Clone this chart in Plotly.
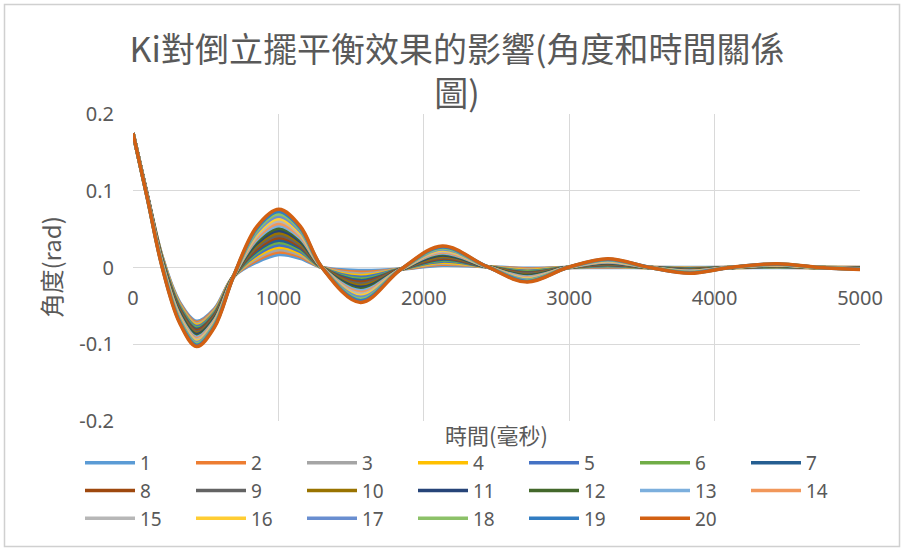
import plotly.graph_objects as go

# Sampling instants (ms) shared by every run
time_ms = [0, 100, 201, 320, 437, 560, 690, 850, 1003, 1150, 1300, 1565,
           1845, 2127, 2436, 2710, 2990, 3265, 3555, 3830, 4105, 4430, 4720, 5000]

# Pendulum angle (rad) for each Ki setting
ki_1 = [0.175, 0.093, 0.0140, -0.0450, -0.0700, -0.0540, -0.012, 0.0070, 0.0170, 0.0120, 0.0, -0.0040, -0.002, 0.0030, 0.001, -0.0010, 0.0, 0.0000, 0.0, 0.0000, 0.0, 0.0000, 0.0, 0.0000]
ki_2 = [0.175, 0.093, 0.0133, -0.0464, -0.0717, -0.0553, -0.012, 0.0094, 0.0201, 0.0142, 0.0, -0.0062, -0.002, 0.0043, 0.001, -0.0019, 0.0, 0.0006, 0.0, -0.0004, 0.0, 0.0003, 0.0, -0.0001]
ki_3 = [0.175, 0.093, 0.0125, -0.0478, -0.0735, -0.0565, -0.012, 0.0118, 0.0232, 0.0164, 0.0, -0.0084, -0.002, 0.0056, 0.001, -0.0029, 0.0, 0.0012, 0.0, -0.0008, 0.0, 0.0005, 0.0, -0.0003]
ki_4 = [0.175, 0.092, 0.0118, -0.0493, -0.0752, -0.0578, -0.012, 0.0143, 0.0263, 0.0186, 0.0, -0.0106, -0.002, 0.0069, 0.001, -0.0038, 0.0, 0.0018, 0.0, -0.0012, 0.0, 0.0008, 0.0, -0.0004]
ki_5 = [0.175, 0.092, 0.0111, -0.0507, -0.0769, -0.0591, -0.012, 0.0167, 0.0294, 0.0208, 0.0, -0.0127, -0.002, 0.0083, 0.001, -0.0048, 0.0, 0.0024, 0.0, -0.0016, 0.0, 0.0011, 0.0, -0.0005]
ki_6 = [0.175, 0.092, 0.0103, -0.0521, -0.0787, -0.0603, -0.012, 0.0191, 0.0325, 0.0231, 0.0, -0.0149, -0.002, 0.0096, 0.001, -0.0057, 0.0, 0.0030, 0.0, -0.0020, 0.0, 0.0013, 0.0, -0.0007]
ki_7 = [0.175, 0.092, 0.0096, -0.0535, -0.0804, -0.0616, -0.012, 0.0215, 0.0356, 0.0253, 0.0, -0.0171, -0.002, 0.0109, 0.001, -0.0067, 0.0, 0.0036, 0.0, -0.0024, 0.0, 0.0016, 0.0, -0.0008]
ki_8 = [0.175, 0.092, 0.0088, -0.0549, -0.0822, -0.0628, -0.012, 0.0239, 0.0387, 0.0275, 0.0, -0.0193, -0.002, 0.0122, 0.001, -0.0076, 0.0, 0.0042, 0.0, -0.0028, 0.0, 0.0018, 0.0, -0.0009]
ki_9 = [0.175, 0.091, 0.0081, -0.0564, -0.0839, -0.0641, -0.012, 0.0264, 0.0418, 0.0297, 0.0, -0.0215, -0.002, 0.0135, 0.001, -0.0086, 0.0, 0.0048, 0.0, -0.0032, 0.0, 0.0021, 0.0, -0.0011]
ki_10 = [0.175, 0.091, 0.0074, -0.0578, -0.0856, -0.0654, -0.012, 0.0288, 0.0449, 0.0319, 0.0, -0.0237, -0.002, 0.0148, 0.001, -0.0095, 0.0, 0.0054, 0.0, -0.0036, 0.0, 0.0024, 0.0, -0.0012]
ki_11 = [0.175, 0.091, 0.0066, -0.0592, -0.0874, -0.0666, -0.012, 0.0312, 0.0481, 0.0341, 0.0, -0.0258, -0.002, 0.0162, 0.001, -0.0105, 0.0, 0.0061, 0.0, -0.0039, 0.0, 0.0026, 0.0, -0.0013]
ki_12 = [0.175, 0.091, 0.0059, -0.0606, -0.0891, -0.0679, -0.012, 0.0336, 0.0512, 0.0363, 0.0, -0.0280, -0.002, 0.0175, 0.001, -0.0114, 0.0, 0.0067, 0.0, -0.0043, 0.0, 0.0029, 0.0, -0.0014]
ki_13 = [0.175, 0.091, 0.0052, -0.0621, -0.0908, -0.0692, -0.012, 0.0361, 0.0543, 0.0385, 0.0, -0.0302, -0.002, 0.0188, 0.001, -0.0124, 0.0, 0.0073, 0.0, -0.0047, 0.0, 0.0032, 0.0, -0.0016]
ki_14 = [0.175, 0.090, 0.0044, -0.0635, -0.0926, -0.0704, -0.012, 0.0385, 0.0574, 0.0407, 0.0, -0.0324, -0.002, 0.0201, 0.001, -0.0133, 0.0, 0.0079, 0.0, -0.0051, 0.0, 0.0034, 0.0, -0.0017]
ki_15 = [0.175, 0.090, 0.0037, -0.0649, -0.0943, -0.0717, -0.012, 0.0409, 0.0605, 0.0429, 0.0, -0.0346, -0.002, 0.0214, 0.001, -0.0143, 0.0, 0.0085, 0.0, -0.0055, 0.0, 0.0037, 0.0, -0.0018]
ki_16 = [0.175, 0.090, 0.0029, -0.0663, -0.0961, -0.0729, -0.012, 0.0433, 0.0636, 0.0452, 0.0, -0.0368, -0.002, 0.0227, 0.001, -0.0152, 0.0, 0.0091, 0.0, -0.0059, 0.0, 0.0039, 0.0, -0.0020]
ki_17 = [0.175, 0.090, 0.0022, -0.0677, -0.0978, -0.0742, -0.012, 0.0457, 0.0667, 0.0474, 0.0, -0.0389, -0.002, 0.0241, 0.001, -0.0162, 0.0, 0.0097, 0.0, -0.0063, 0.0, 0.0042, 0.0, -0.0021]
ki_18 = [0.175, 0.089, 0.0015, -0.0692, -0.0995, -0.0755, -0.012, 0.0482, 0.0698, 0.0496, 0.0, -0.0411, -0.002, 0.0254, 0.001, -0.0171, 0.0, 0.0103, 0.0, -0.0067, 0.0, 0.0045, 0.0, -0.0022]
ki_19 = [0.175, 0.089, 0.0007, -0.0706, -0.1013, -0.0767, -0.012, 0.0506, 0.0729, 0.0518, 0.0, -0.0433, -0.002, 0.0267, 0.001, -0.0181, 0.0, 0.0109, 0.0, -0.0071, 0.0, 0.0047, 0.0, -0.0024]
ki_20 = [0.175, 0.089, 0.0000, -0.0720, -0.1030, -0.0780, -0.012, 0.0530, 0.0760, 0.0540, 0.0, -0.0455, -0.002, 0.0280, 0.001, -0.0190, 0.0, 0.0115, 0.0, -0.0075, 0.0, 0.0050, 0.0, -0.0025]

series_names = ["1", "2", "3", "4", "5", "6", "7", "8", "9", "10",
                "11", "12", "13", "14", "15", "16", "17", "18", "19", "20"]

x_tick_vals = [0, 1000, 2000, 3000, 4000, 5000]
x_tick_text = ["0", "1000", "2000", "3000", "4000", "5000"]
y_tick_vals = [-0.2, -0.1, 0, 0.1, 0.2]
y_tick_text = ["-0.2", "-0.1", "0", "0.1", "0.2"]

series_values = [ki_1, ki_2, ki_3, ki_4, ki_5, ki_6, ki_7, ki_8, ki_9, ki_10,
                 ki_11, ki_12, ki_13, ki_14, ki_15, ki_16, ki_17, ki_18, ki_19, ki_20]

# Office colour cycle for 20 series
palette = ["#5B9BD5", "#ED7D31", "#A5A5A5", "#FFC000", "#4472C4", "#70AD47",
           "#255E91", "#9E480E", "#636363", "#997300", "#264478", "#43682B",
           "#7CAFDD", "#F1975A", "#B7B7B7", "#FFCD33", "#698ED0", "#8CC168",
           "#327DC2", "#D26012"]

W, H = 905, 549
ML, MR, MT, MB = 133, 45, 114, 128
PW, PH = W - ML - MR, H - MT - MB


def px_x(p):
    return (p - ML) / PW


def px_y(p):
    return (H - MB - p) / PH


TEXT = "#595959"
GRID = "#d9d9d9"
CJK = "Noto Sans CJK TC"

fig = go.Figure()
for name, vals, col in zip(series_names, series_values, palette):
    fig.add_trace(go.Scatter(
        x=time_ms, y=vals, name=name, mode="lines",
        line=dict(color=col, width=3.5, shape="spline", smoothing=1.0),
    ))

fig.update_layout(
    width=W, height=H,
    margin=dict(l=ML, r=MR, t=MT, b=MB, autoexpand=False),
    paper_bgcolor="white", plot_bgcolor="white",
    title=dict(
        text="Ki對倒立擺平衡效果的影響(角度和時間關係<br>圖)",
        x=457 / W, xanchor="center", y=1 - 62 / H, yanchor="top",
        font=dict(family=CJK, size=34, color=TEXT),
    ),
    xaxis=dict(
        range=[0, 5000], tickvals=x_tick_vals, ticktext=x_tick_text,
        showgrid=True, gridcolor=GRID, gridwidth=1.3, zeroline=False,
        showline=False, ticks="", anchor="free", position=0.5,
        ticklabelstandoff=16,
        tickfont=dict(family="Noto Sans", size=20, color=TEXT),
    ),
    yaxis=dict(
        range=[-0.2, 0.2], tickvals=y_tick_vals, ticktext=y_tick_text,
        showgrid=True, gridcolor=GRID, gridwidth=1.3, zeroline=False,
        showline=False, ticks="", ticklabelstandoff=18,
        tickfont=dict(family="Noto Sans", size=20, color=TEXT),
    ),
    legend=dict(
        orientation="h", x=px_x(80), y=px_y(444), xanchor="left", yanchor="top",
        font=dict(family="Noto Sans", size=19, color=TEXT),
        itemwidth=50, entrywidth=46, entrywidthmode="pixels",
        traceorder="normal", tracegroupgap=0, bgcolor="rgba(0,0,0,0)",
    ),
    annotations=[
        dict(text="時間(毫秒)", xref="paper", yref="paper", x=0.5, y=px_y(434),
             xanchor="center", yanchor="middle", showarrow=False,
             font=dict(family=CJK, size=22, color=TEXT)),
        dict(text="角度(rad)", xref="paper", yref="paper", x=px_x(50), y=0.5,
             xanchor="center", yanchor="middle", showarrow=False, textangle=-90,
             font=dict(family=CJK, size=24, color=TEXT)),
    ],
    shapes=[
        dict(type="rect", xref="paper", yref="paper",
             x0=px_x(4.5), x1=px_x(899.5), y0=px_y(546.5), y1=px_y(4.5),
             line=dict(color="#d0d0d0", width=1.5), fillcolor="rgba(0,0,0,0)",
             layer="below"),
    ],
)

fig.write_html("out.html")
